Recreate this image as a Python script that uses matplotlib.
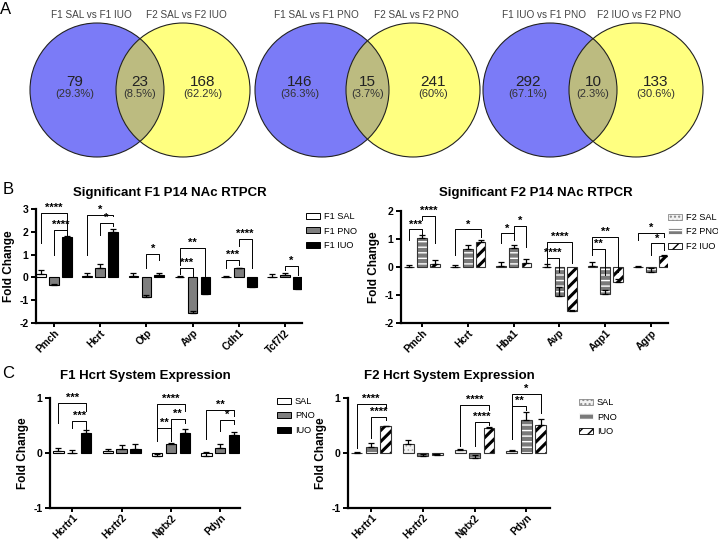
import numpy as np
import matplotlib
matplotlib.use("Agg")
import matplotlib.pyplot as plt
from matplotlib.patches import Circle, Patch

plt.rcParams['font.family'] = ['Liberation Sans', 'DejaVu Sans']
plt.rcParams['axes.unicode_minus'] = False

# ---------------- data ----------------
# Venn diagrams (panel A)
venn_titles = [("F1 SAL vs F1 IUO", "F2 SAL vs F2 IUO"),
               ("F1 SAL vs F1 PNO", "F2 SAL vs F2 PNO"),
               ("F1 IUO vs F1 PNO", "F2 IUO vs F2 PNO")]
venn_counts = [(79, 23, 168), (146, 15, 241), (292, 10, 133)]
venn_pcts = [("29.3%", "8.5%", "62.2%"), ("36.3%", "3.7%", "60%"), ("67.1%", "2.3%", "30.6%")]

# panel B, F1
b1_genes = ["Pmch", "Hcrt", "Otp", "Avp", "Cdh1", "Tcf7l2"]
b1_sal = [0.15, 0.05, 0.07, 0.00, 0.00, 0.03]
b1_pno = [-0.34, 0.43, -0.88, -1.57, 0.40, 0.12]
b1_iuo = [1.77, 1.97, 0.10, -0.72, -0.40, -0.50]
b1_sal_err = [0.17, 0.15, 0.13, 0.08, 0.07, 0.13]
b1_pno_err = [0.05, 0.17, 0.13, 0.10, 0.03, 0.06]
b1_iuo_err = [0.03, 0.15, 0.10, 0.04, 0.17, 0.18]
# (gene, bar a, bar b, top, left leg end, right leg end, label)
b1_sig = [(0, 0, 2, 2.82, 1.51, 1.87, "****"), (0, 1, 2, 2.09, 1.00, 1.82, "****"),
          (1, 0, 2, 2.75, 1.00, 2.68, "*"), (1, 1, 2, 2.39, 1.87, 2.24, "*"),
          (2, 1, 2, 1.04, 0.41, 0.78, "*"),
          (3, 0, 2, 1.29, 0.56, 0.00, "**"), (3, 0, 1, 0.41, 0.15, 0.07, "***"),
          (4, 0, 1, 0.78, 0.41, 0.56, "***"), (4, 1, 2, 1.68, 1.36, 0.41, "****"),
          (5, 1, 2, 0.51, 0.34, 0.12, "*")]

# panel B, F2
b2_genes = ["Pmch", "Hcrt", "Hba1", "Avp", "Aqp1", "Agrp"]
b2_sal = [0.00, 0.00, 0.04, 0.00, 0.05, 0.00]
b2_pno = [1.05, 0.65, 0.69, -1.02, -0.97, -0.17]
b2_iuo = [0.12, 0.88, 0.16, -1.57, -0.52, 0.38]
b2_sal_err = [0.08, 0.06, 0.13, 0.10, 0.13, 0.03]
b2_pno_err = [0.08, 0.15, 0.10, 0.30, 0.15, 0.13]
b2_iuo_err = [0.12, 0.08, 0.12, 0.03, 0.10, 0.05]
b2_sig = [(0, 0, 1, 1.34, 0.96, 1.14, "***"), (0, 1, 2, 1.81, 1.67, 0.84, "****"),
          (1, 0, 2, 1.34, 0.43, 1.08, "*"),
          (2, 0, 1, 1.20, 0.84, 0.98, "*"), (2, 1, 2, 1.47, 1.20, 0.72, "*"),
          (3, 0, 2, 0.90, 0.37, 0.13, "****"), (3, 0, 1, 0.31, 0.13, -0.17, "****"),
          (4, 0, 2, 1.08, 0.60, -0.17, "**"), (4, 0, 1, 0.66, 0.43, -0.28, "**"),
          (5, 0, 2, 1.22, 0.96, 1.08, "*"), (5, 1, 2, 0.84, 0.43, 0.60, "*")]

# panel C, F1
c1_genes = ["Hcrtr1", "Hcrtr2", "Nptx2", "Pdyn"]
c1_sal = [0.04, 0.04, -0.05, -0.05]
c1_pno = [0.00, 0.08, 0.17, 0.09]
c1_iuo = [0.36, 0.07, 0.36, 0.33]
c1_sal_err = [0.06, 0.04, 0.04, 0.06]
c1_pno_err = [0.05, 0.06, 0.02, 0.07]
c1_iuo_err = [0.06, 0.10, 0.08, 0.05]
c1_sig = [(0, 0, 2, 0.91, 0.55, 0.76, "***"), (0, 1, 2, 0.58, 0.46, 0.43, "***"),
          (2, 0, 2, 0.90, 0.40, 0.76, "****"), (2, 1, 2, 0.62, 0.22, 0.55, "**"),
          (2, 0, 1, 0.46, 0.22, 0.40, "**"),
          (3, 0, 2, 0.78, 0.25, 0.67, "**"), (3, 1, 2, 0.60, 0.40, 0.52, "*")]

# panel C, F2
c2_genes = ["Hcrtr1", "Hcrtr2", "Nptx2", "Pdyn"]
c2_sal = [0.00, 0.16, 0.06, 0.04]
c2_pno = [0.11, -0.05, -0.09, 0.60]
c2_iuo = [0.49, -0.03, 0.45, 0.51]
c2_sal_err = [0.01, 0.07, 0.01, 0.01]
c2_pno_err = [0.07, 0.04, 0.05, 0.14]
c2_iuo_err = [0.01, 0.01, 0.02, 0.10]
c2_sig = [(0, 0, 2, 0.89, 0.10, 0.81, "****"), (0, 1, 2, 0.66, 0.28, 0.60, "****"),
          (2, 0, 2, 0.87, 0.13, 0.78, "****"), (2, 1, 2, 0.57, 0.13, 0.51, "****"),
          (3, 0, 1, 0.86, 0.25, 0.79, "**"), (3, 0, 2, 1.08, 0.25, 0.73, "*")]

W, H = 718, 541
fig = plt.figure(figsize=(W / 100, H / 100), dpi=100)


def px_axes(left, top, right, bottom):
    return fig.add_axes([left / W, 1 - bottom / H, (right - left) / W, (bottom - top) / H])


def px_text(x, y, s, **kw):
    fig.text(x / W, 1 - y / H, s, **kw)


def hatch_lw(patches, lw):
    for p in patches:
        if hasattr(p, 'set_hatch_linewidth'):
            p.set_hatch_linewidth(lw)


# ---------------- panel A: venns ----------------
ax_v = fig.add_axes([0, 1 - 180 / H, 1, 180 / H])
ax_v.set_xlim(0, W)
ax_v.set_ylim(180, 0)
ax_v.axis('off')
centers = [(97, 183), (322, 413), (550, 636)]
r = 67
for (cl, cr), titles, counts, pcts in zip(centers, venn_titles, venn_counts, venn_pcts):
    c1 = Circle((cl, 90), r, fc='#7b7bf7', ec='none')
    c2 = Circle((cr, 90), r, fc='#ffff80', ec='none')
    ax_v.add_patch(c1)
    ax_v.add_patch(c2)
    ov = Circle((cl, 90), r, fc='#bcbb80', ec='none')
    ax_v.add_patch(ov)
    ov.set_clip_path(c2)
    for c in (cl, cr):
        ax_v.add_patch(Circle((c, 90), r, fill=False, ec='#222222', lw=0.8))
    xs = [cl - 22, (cl + cr) / 2, cr + 20]
    for x, n, p in zip(xs, counts, pcts):
        ax_v.text(x, 82, str(n), ha='center', va='center', fontsize=11, color='#222222')
        ax_v.text(x, 94, "(" + p + ")", ha='center', va='center', fontsize=8, color='#333333')
    ax_v.text(cl - 6, 15, titles[0], ha='center', va='center', fontsize=7.2, color='#444444')
    ax_v.text(cr + 3, 15, titles[1], ha='center', va='center', fontsize=7.2, color='#444444')

px_text(6, 9, "A", fontsize=12, ha='center', va='center')
px_text(8, 190, "B", fontsize=12, ha='center', va='center')
px_text(8, 374, "C", fontsize=12, ha='center', va='center')

# ---------------- bar panels ----------------
OFF = [-0.28, 0.0, 0.28]
BW = 0.21


def draw_bars(ax, x, vals, errs, k, hatched):
    pos = x + OFF[k]
    if not hatched:
        fc = ['white', '#7f7f7f', 'black'][k]
        ax.bar(pos, vals, BW, color=fc, edgecolor='black', linewidth=0.8, zorder=2)
    else:
        if k == 0:
            bars = ax.bar(pos, vals, BW, color='#f2f2f2', edgecolor='#a8a8a8', hatch='....',
                          linewidth=0, zorder=2)
            hatch_lw(bars, 0.6)
        elif k == 1:
            bars = ax.bar(pos, vals, BW, color='#7a7a7a', edgecolor='white', hatch='---',
                          linewidth=0, zorder=2)
            hatch_lw(bars, 1.0)
        else:
            bars = ax.bar(pos, vals, BW, color='white', edgecolor='black', hatch='///',
                          linewidth=0, zorder=2)
            hatch_lw(bars, 2.2)
        ax.bar(pos, vals, BW, fill=False, edgecolor='#333333', linewidth=0.8, zorder=3)
    vals = np.array(vals)
    errs = np.array(errs)
    ax.errorbar(pos, vals, yerr=[np.zeros_like(errs), errs], fmt='none', ecolor='black',
                elinewidth=0.9, capsize=2.5, capthick=0.9, zorder=4)


def bar_panel(rect, genes, groups, errs, sig, ylim, yticks, xlim, hatched, labels, leg_xy):
    ax = px_axes(*rect)
    x = np.arange(len(genes))
    for k in range(3):
        draw_bars(ax, x, groups[k], errs[k], k, hatched)
    for g, a, b, top, lb, rb, lab in sig:
        xa, xb = g + OFF[a], g + OFF[b]
        ax.plot([xa, xa, xb, xb], [lb, top, top, rb], color='black', lw=0.7, clip_on=False, zorder=5)
        ax.text((xa + xb) / 2, top, lab, ha='center', va='bottom', fontsize=8,
                fontweight='bold', clip_on=False)
    ax.set_xlim(*xlim)
    ax.set_ylim(*ylim)
    ax.set_yticks(yticks)
    ax.set_yticklabels([str(t) for t in yticks], fontweight='bold', fontsize=7.5)
    ax.set_xticks(x)
    ax.set_xticklabels(genes, rotation=45, ha='right', rotation_mode='anchor',
                       fontweight='bold', fontsize=7.3)
    for s in ['top', 'right']:
        ax.spines[s].set_visible(False)
    for s in ['left', 'bottom']:
        ax.spines[s].set_linewidth(1.6)
    ax.tick_params(direction='out', length=3.5, width=1.4, pad=2)
    ax.tick_params(axis='x', length=3, pad=0.5)
    ax.set_ylabel("Fold Change", fontweight='bold', fontsize=8.5, labelpad=3)
    ax.patch.set_alpha(0)

    if hatched:
        handles = [Patch(facecolor='#f2f2f2', edgecolor='#888888', hatch='....', linewidth=0.6),
                   Patch(facecolor='#7a7a7a', edgecolor='white', hatch='---', linewidth=0.6),
                   Patch(facecolor='white', edgecolor='black', hatch='///', linewidth=0.6)]
        hatch_lw(handles[2:], 2.0)
    else:
        handles = [Patch(facecolor='white', edgecolor='black', linewidth=0.7),
                   Patch(facecolor='#7f7f7f', edgecolor='black', linewidth=0.7),
                   Patch(facecolor='black', edgecolor='black', linewidth=0.7)]
    fig.legend(handles, labels, loc='upper left', bbox_to_anchor=(leg_xy[0] / W, 1 - leg_xy[1] / H),
               frameon=False, fontsize=6.6, handlelength=1.5, handleheight=0.55,
               handletextpad=0.45, labelspacing=0.6, borderaxespad=0, borderpad=0)
    return ax


bar_panel((36, 209, 302, 323), b1_genes, [b1_sal, b1_pno, b1_iuo],
          [b1_sal_err, b1_pno_err, b1_iuo_err], b1_sig, (-2, 3), [-2, -1, 0, 1, 2, 3],
          (-0.39, 5.37), False, ["F1 SAL", "F1 PNO", "F1 IUO"], (306, 212))
bar_panel((401, 211, 668, 323), b2_genes, [b2_sal, b2_pno, b2_iuo],
          [b2_sal_err, b2_pno_err, b2_iuo_err], b2_sig, (-2, 2), [-2, -1, 0, 1, 2],
          (-0.46, 5.37), True, ["F2 SAL", "F2 PNO", "F2 IUO"], (668, 213))
bar_panel((50, 398, 240, 508), c1_genes, [c1_sal, c1_pno, c1_iuo],
          [c1_sal_err, c1_pno_err, c1_iuo_err], c1_sig, (-1, 1), [-1, 0, 1],
          (-0.45, 3.4), False, ["SAL", "PNO", "IUO"], (277, 397))
bar_panel((348, 398, 550, 508), c2_genes, [c2_sal, c2_pno, c2_iuo],
          [c2_sal_err, c2_pno_err, c2_iuo_err], c2_sig, (-1, 1), [-1, 0, 1],
          (-0.45, 3.46), True, ["SAL", "PNO", "IUO"], (579, 398))

title_kw = dict(ha='center', va='center', fontsize=9.5, fontweight='bold')
px_text(170, 193, "Significant F1 P14 NAc RTPCR", **title_kw)
px_text(536, 193, "Significant F2 P14 NAc RTPCR", **title_kw)
px_text(145, 376, "F1 Hcrt System Expression", **title_kw)
px_text(449, 376, "F2 Hcrt System Expression", **title_kw)

fig.savefig("out.png", dpi=100, facecolor='white')
